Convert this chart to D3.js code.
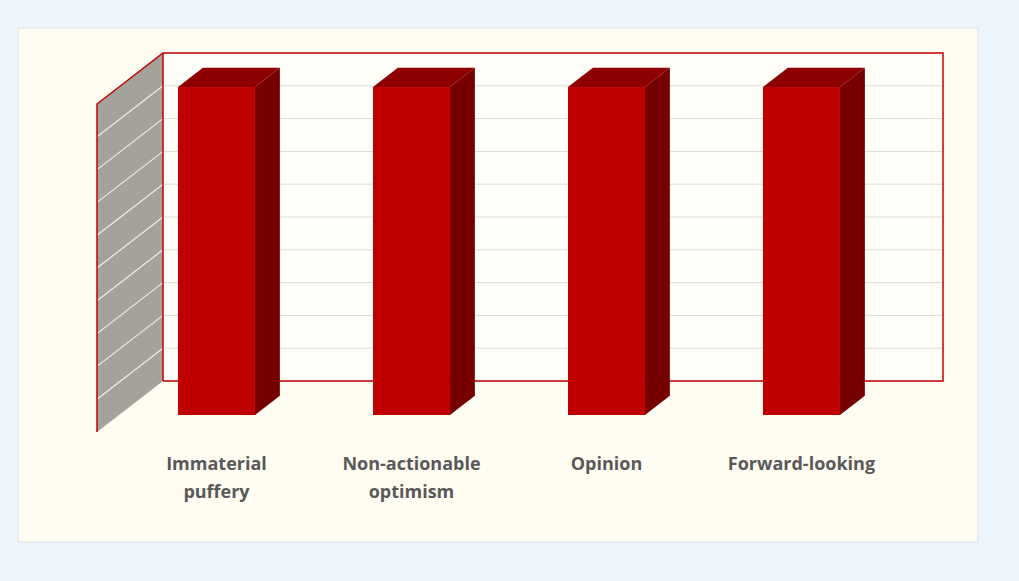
<!DOCTYPE html><html><head><meta charset="utf-8"><script src="https://cdn.jsdelivr.net/npm/d3@7"></script>
<style>body{margin:0;background:#eef6fd}</style></head><body><svg id="c" width="1019" height="581"></svg>
<script>
const categories=[["Immaterial","puffery"],["Non-actionable","optimism"],["Opinion"],["Forward-looking"]];
const values=[100,100,100,100];
const ticks=d3.range(0,101,10);
const svg=d3.select("#c");
svg.append("rect").attr("x",18).attr("y",28).attr("width",960).attr("height",514).attr("fill","#fffcf2").attr("stroke","#dde3e8");
const y=d3.scaleLinear().domain([0,100]).range([381,53]);
const x=d3.scaleBand().domain(d3.range(4)).range([163,943]);
const DX=-66,DY=51;
// back wall
svg.append("rect").attr("x",163).attr("y",53).attr("width",780).attr("height",328).attr("fill","#fffef9");
ticks.forEach(t=>{
 svg.append("line").attr("x1",163).attr("x2",943).attr("y1",y(t)).attr("y2",y(t)).attr("stroke","#dcdcd4");
});
// side wall
svg.append("path").attr("d",`M${163+DX},${53+DY}L163,53L163,381L${163+DX},${381+DY}Z`).attr("fill","#a5a29c");
ticks.forEach(t=>{if(t>0&&t<100)svg.append("line").attr("x1",163+DX).attr("y1",y(t)+DY).attr("x2",163).attr("y2",y(t)).attr("stroke","#eee").attr("stroke-width",1.2);});
svg.append("path").attr("d",`M${163+DX},${381+DY}L${163+DX},${53+DY}L163,53L943,53L943,381L163,381`).attr("fill","none").attr("stroke","#c00000").attr("stroke-width",1.5);
svg.append("line").attr("x1",163).attr("x2",163).attr("y1",53).attr("y2",381).attr("stroke","#c00000").attr("stroke-width",1.5);
// bars
const fF=0.667,fB=0.29,bw=77;
values.forEach((v,i)=>{
 const cx=x(i)+x.bandwidth()/2;
 const fx=cx+DX*fF-bw/2, fy0=381+DY*fF, fy1=y(v)+DY*fF;
 const bx=cx+DX*fB-bw/2, by0=381+DY*fB, by1=y(v)+DY*fB;
 svg.append("path").attr("d",`M${fx+bw},${fy1}L${bx+bw},${by1}L${bx+bw},${by0}L${fx+bw},${fy0}Z`).attr("fill","#760000");
 svg.append("path").attr("d",`M${fx},${fy1}L${bx},${by1}L${bx+bw},${by1}L${fx+bw},${fy1}Z`).attr("fill","#8e0000");
 svg.append("rect").attr("x",fx).attr("y",fy1).attr("width",bw).attr("height",fy0-fy1).attr("fill","#c00000");
 const t=svg.append("text").attr("x",fx+bw/2).attr("y",470).attr("text-anchor","middle").attr("font-family","Open Sans, sans-serif").attr("font-weight","bold").attr("font-size",18).attr("fill","#595959");
 categories[i].forEach((l,k)=>t.append("tspan").attr("x",fx+bw/2).attr("dy",k?28:0).text(l));
});
</script></body></html>
